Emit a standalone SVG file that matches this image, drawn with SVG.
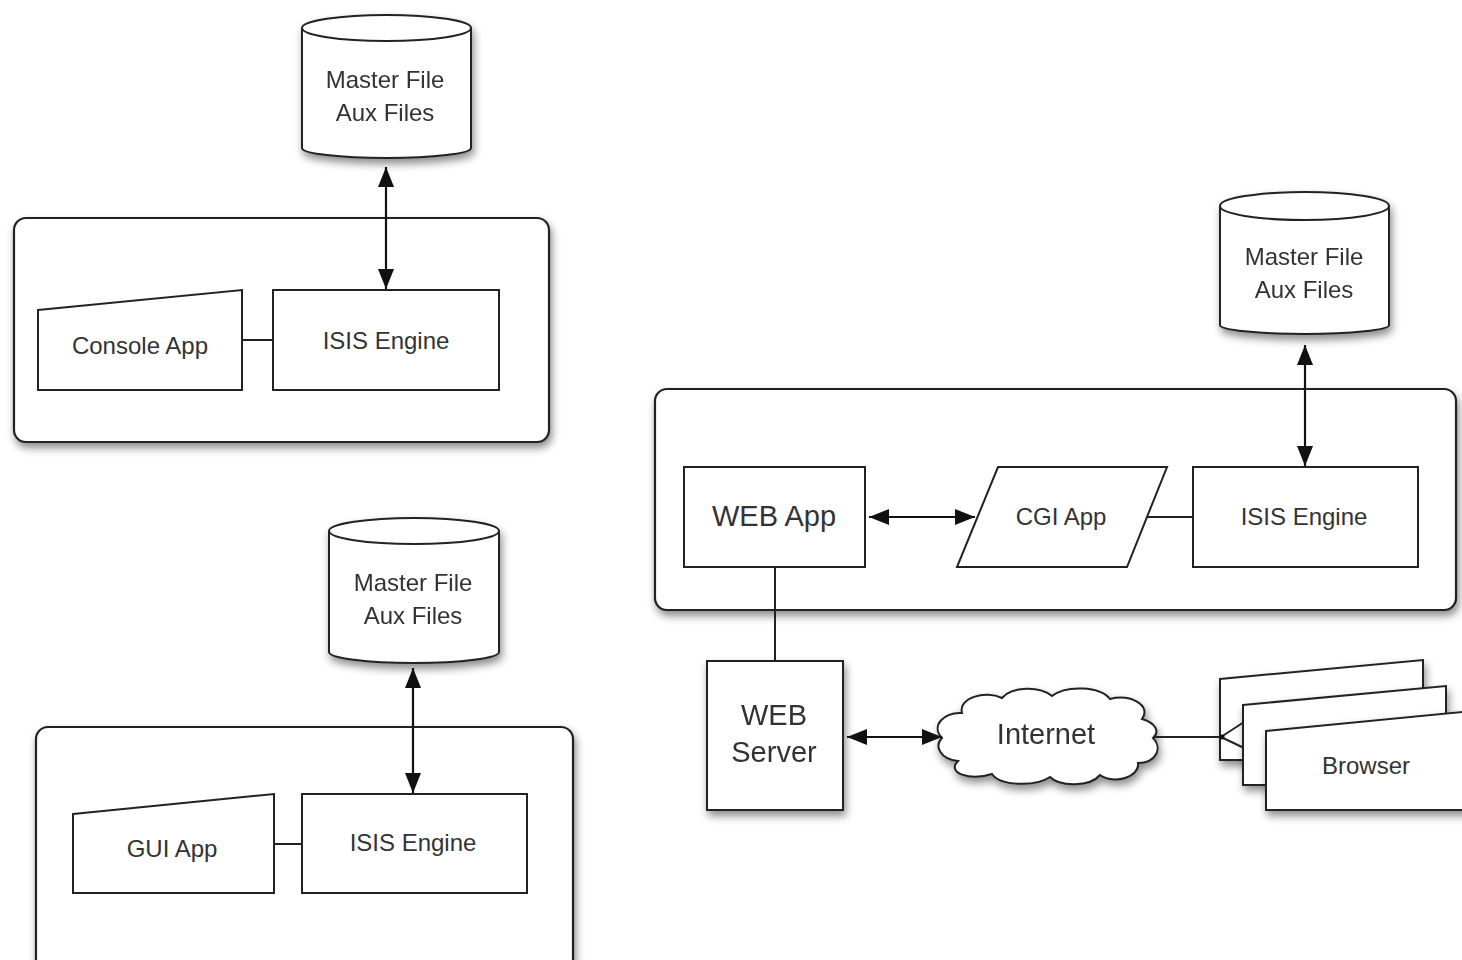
<svg xmlns="http://www.w3.org/2000/svg" width="1462" height="960" viewBox="0 0 1462 960">
<defs>
<filter id="sh" x="-10%" y="-10%" width="130%" height="140%">
<feDropShadow dx="2" dy="5" stdDeviation="4" flood-color="#000" flood-opacity="0.45"/>
</filter>
<marker id="ah" viewBox="0 0 20 16" refX="20" refY="8" markerWidth="20" markerHeight="16" markerUnits="userSpaceOnUse" orient="auto-start-reverse">
<path d="M0,0 L20,8 L0,16 z" fill="#111"/>
</marker>
<style>
.shape{fill:#fff;stroke:#222;stroke-width:2}
.cont{fill:#fff;stroke:#222;stroke-width:2.2;filter:url(#sh)}
.sh{filter:url(#sh)}
.line{fill:none;stroke:#222;stroke-width:2}
.arr{fill:none;stroke:#111;stroke-width:2.2;marker-start:url(#ah);marker-end:url(#ah)}
text{font-family:"Liberation Sans",Arial,Helvetica,sans-serif;fill:#333;text-anchor:middle}
.t24{font-size:24px}
.t29{font-size:29px}
</style>
</defs>
<rect width="1462" height="960" fill="#fff"/>

<!-- containers -->
<g id="container-console"><rect class="cont" x="14" y="218" width="535" height="224" rx="12"/></g>
<g id="container-gui"><rect class="cont" x="36" y="727" width="537" height="260" rx="12"/></g>
<g id="container-web"><rect class="cont" x="655" y="389" width="801" height="221" rx="12"/></g>

<!-- top-left -->
<g id="db1" class="sh">
<path class="shape" d="M302,28 A84.5,13 0 0 1 471,28 L471,148 A84.5,10 0 0 1 302,148 Z"/>
<path class="line" d="M302,28 A84.5,13 0 0 0 471,28"/>
<text class="t24" x="385" y="88">Master File</text>
<text class="t24" x="385" y="121">Aux Files</text>
</g>
<g id="console-app">
<path class="shape" d="M38,310 L242,290 L242,390 L38,390 Z"/>
<text class="t24" x="140" y="354">Console App</text>
</g>
<g id="isis1">
<rect class="shape" x="273" y="290" width="226" height="100"/>
<text class="t24" x="386" y="349">ISIS Engine</text>
</g>

<!-- bottom-left -->
<g id="db2" class="sh">
<path class="shape" d="M329,531 A85,13 0 0 1 499,531 L499,652 A85,11 0 0 1 329,652 Z"/>
<path class="line" d="M329,531 A85,13 0 0 0 499,531"/>
<text class="t24" x="413" y="591">Master File</text>
<text class="t24" x="413" y="624">Aux Files</text>
</g>
<g id="gui-app">
<path class="shape" d="M73,814 L274,794 L274,893 L73,893 Z"/>
<text class="t24" x="172" y="857">GUI App</text>
</g>
<g id="isis2">
<rect class="shape" x="302" y="794" width="225" height="99"/>
<text class="t24" x="413" y="851">ISIS Engine</text>
</g>

<!-- right -->
<g id="db3" class="sh">
<path class="shape" d="M1220,206 A84.5,14 0 0 1 1389,206 L1389,325 A84.5,9 0 0 1 1220,325 Z"/>
<path class="line" d="M1220,206 A84.5,14 0 0 0 1389,206"/>
<text class="t24" x="1304" y="265">Master File</text>
<text class="t24" x="1304" y="298">Aux Files</text>
</g>
<g id="web-app">
<rect class="shape" x="684" y="467" width="181" height="100"/>
<text class="t29" x="774" y="526">WEB App</text>
</g>
<g id="cgi-app">
<path class="shape" d="M998,467 L1167,467 L1127,567 L957,567 Z"/>
<text class="t24" x="1061" y="525">CGI App</text>
</g>
<g id="isis3">
<rect class="shape" x="1193" y="467" width="225" height="100"/>
<text class="t24" x="1304" y="525">ISIS Engine</text>
</g>
<g id="web-server" class="sh">
<rect class="shape" x="707" y="661" width="136" height="149"/>
<text class="t29" x="774" y="725">WEB</text>
<text class="t29" x="774" y="762">Server</text>
</g>
<g id="internet" class="sh">
<path class="shape" d="M942,738 C930,725 945,712 962,713 C958,698 985,690 1002,698 C1012,686 1040,686 1052,696 C1066,685 1100,686 1110,699 C1130,694 1152,705 1142,719 C1156,723 1160,732 1153,738 C1163,748 1156,763 1138,763 C1140,777 1114,785 1100,775 C1090,787 1060,787 1050,777 C1035,787 1000,786 992,774 C970,781 946,773 958,761 C940,759 934,746 942,738 Z"/>
<text class="t29" x="1046" y="744">Internet</text>
</g>

<!-- connectors -->
<g id="connectors">
<line class="arr" x1="386" y1="167" x2="386" y2="289"/>
<line class="line" x1="242" y1="340" x2="273" y2="340"/>
<line class="arr" x1="413" y1="668" x2="413" y2="793"/>
<line class="line" x1="274" y1="844" x2="302" y2="844"/>
<line class="arr" x1="1305" y1="345" x2="1305" y2="466"/>
<line class="arr" x1="869" y1="517" x2="975" y2="517"/>
<line class="line" x1="1147" y1="517" x2="1193" y2="517"/>
<line class="line" x1="775" y1="567" x2="775" y2="661"/>
<line class="arr" x1="847" y1="737" x2="942" y2="737"/>
<line class="line" x1="1154" y1="737" x2="1222" y2="737"/>
</g>

<!-- browsers -->
<g id="browser">
<path class="shape sh" d="M1220,679 L1423,660 L1423,760 L1220,760 Z"/>
<line class="line" x1="1221" y1="737" x2="1244" y2="722"/>
<line class="line" x1="1221" y1="737" x2="1244" y2="748"/>
<circle cx="1222" cy="737" r="2.5" fill="#111"/>
<path class="shape sh" d="M1243,705 L1446,686 L1446,785 L1243,785 Z"/>
<path class="shape sh" d="M1266,731 L1472,711 L1472,810 L1266,810 Z"/>
<text class="t24" x="1366" y="774">Browser</text>
</g>
</svg>
